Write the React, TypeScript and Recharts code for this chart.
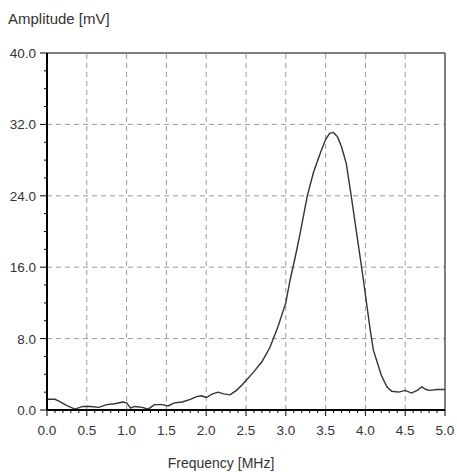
import React from 'react';
import { LineChart, Line, XAxis, YAxis, ReferenceLine } from 'recharts';

const frequency = [
  0, 0.1, 0.15, 0.25, 0.35, 0.45, 0.55, 0.65, 0.75, 0.85, 0.95, 1.0, 1.05, 1.1, 1.2, 1.27,
  1.35, 1.45, 1.52, 1.6, 1.7, 1.8, 1.88, 1.94, 2.0, 2.08, 2.15, 2.22, 2.3, 2.38, 2.45, 2.5,
  2.6, 2.7, 2.8, 2.9, 3.0, 3.05, 3.12, 3.18, 3.27, 3.35, 3.45, 3.5, 3.55, 3.6, 3.65, 3.7, 3.76,
  3.82, 3.89, 3.97, 4.06, 4.1, 4.2, 4.27, 4.33, 4.42, 4.5, 4.58, 4.65, 4.71, 4.76, 4.81, 4.9, 5.0,
];
const amplitude = [
  1.2, 1.2, 1.0, 0.5, 0.1, 0.4, 0.4, 0.3, 0.6, 0.7, 0.9, 0.8, 0.2, 0.4, 0.3, 0.1,
  0.6, 0.6, 0.45, 0.8, 0.9, 1.2, 1.5, 1.6, 1.4, 1.8, 2.0, 1.8, 1.7, 2.2, 2.8, 3.3,
  4.3, 5.4, 7.0, 9.3, 12.0, 14.4, 17.2, 19.8, 24.0, 26.7, 29.2, 30.3, 31.0, 31.1, 30.6, 29.5, 27.6,
  24.1, 19.8, 14.9, 9.0, 6.7, 3.9, 2.6, 2.1, 2.0, 2.2, 1.9, 2.2, 2.6, 2.3, 2.2, 2.3, 2.3,
];

const xMajorTicks = [0, 0.5, 1, 1.5, 2, 2.5, 3, 3.5, 4, 4.5, 5];
const yMajorTicks = [0, 8, 16, 24, 32, 40];
const xGridLines = [0.5, 1, 1.5, 2, 2.5, 3, 3.5, 4, 4.5];
const yGridLines = [8, 16, 24, 32];
const xTicks = Array.from({ length: 51 }, (_, i) => i / 10);
const yTicks = Array.from({ length: 21 }, (_, i) => i * 2);

const data = frequency.map((f, i) => ({ f, a: amplitude[i] }));

const FONT = '"Liberation Sans", Arial, sans-serif';

const isMajor = (v: number, majors: number[]) => majors.some((m) => Math.abs(m - v) < 1e-6);

const XTick = (props: any) => {
  const { x, y, payload } = props;
  const major = isMajor(payload.value, xMajorTicks);
  return (
    <g>
      <line x1={x} x2={x} y1={y} y2={y + (major ? 6 : 3)} stroke="#000" strokeWidth={1} />
      {major && (
        <text x={x} y={y + 25} textAnchor="middle" fontSize={13.5} fill="#333" fontFamily={FONT}>
          {Number(payload.value).toFixed(1)}
        </text>
      )}
    </g>
  );
};

const YTick = (props: any) => {
  const { x, y, payload } = props;
  const major = isMajor(payload.value, yMajorTicks);
  return (
    <g>
      <line x1={x - (major ? 7 : 3)} x2={x} y1={y} y2={y} stroke="#000" strokeWidth={1} />
      {major && (
        <text x={x - 11} y={y + 5} textAnchor="end" fontSize={13.5} fill="#333" fontFamily={FONT}>
          {Number(payload.value).toFixed(1)}
        </text>
      )}
    </g>
  );
};

export default function App() {
  return (
    <div style={{ position: 'absolute', left: 0, top: 0, width: 457, height: 472, background: '#fff' }}>
      <div
        style={{
          position: 'absolute',
          left: 8,
          top: 11,
          fontFamily: FONT,
          fontSize: 15,
          lineHeight: '16px',
          color: '#333',
          whiteSpace: 'nowrap',
        }}
      >
        Amplitude [mV]
      </div>
      <LineChart
        width={457}
        height={472}
        data={data}
        margin={{ top: 53, right: 12, bottom: 32, left: 0 }}
      >
        {xGridLines.map((v) => (
          <ReferenceLine key={'vx' + v} x={v} stroke="#9a9a9a" strokeDasharray="5 4" strokeWidth={1} />
        ))}
        {yGridLines.map((v) => (
          <ReferenceLine key={'hy' + v} y={v} stroke="#9a9a9a" strokeDasharray="5 4" strokeWidth={1} />
        ))}
        <ReferenceLine y={40} stroke="#555" strokeWidth={1.5} />
        <ReferenceLine x={5} stroke="#555" strokeWidth={1.5} />
        <XAxis
          dataKey="f"
          type="number"
          domain={[0, 5]}
          ticks={xTicks}
          interval={0}
          height={30}
          tickSize={0}
          tickMargin={0}
          tickLine={false}
          tick={<XTick />}
          axisLine={{ stroke: '#000', strokeWidth: 2 }}
          allowDataOverflow
        />
        <YAxis
          type="number"
          domain={[0, 40]}
          ticks={yTicks}
          interval={0}
          width={47}
          tickSize={0}
          tickMargin={0}
          tickLine={false}
          tick={<YTick />}
          axisLine={{ stroke: '#000', strokeWidth: 2 }}
          allowDataOverflow
        />
        <Line
          dataKey="a"
          type="linear"
          stroke="#333"
          strokeWidth={1.4}
          dot={false}
          isAnimationActive={false}
        />
      </LineChart>
      <div
        style={{
          position: 'absolute',
          left: 221,
          top: 455,
          transform: 'translateX(-50%)',
          fontFamily: FONT,
          fontSize: 14,
          lineHeight: '16px',
          color: '#333',
          whiteSpace: 'nowrap',
        }}
      >
        Frequency [MHz]
      </div>
    </div>
  );
}
